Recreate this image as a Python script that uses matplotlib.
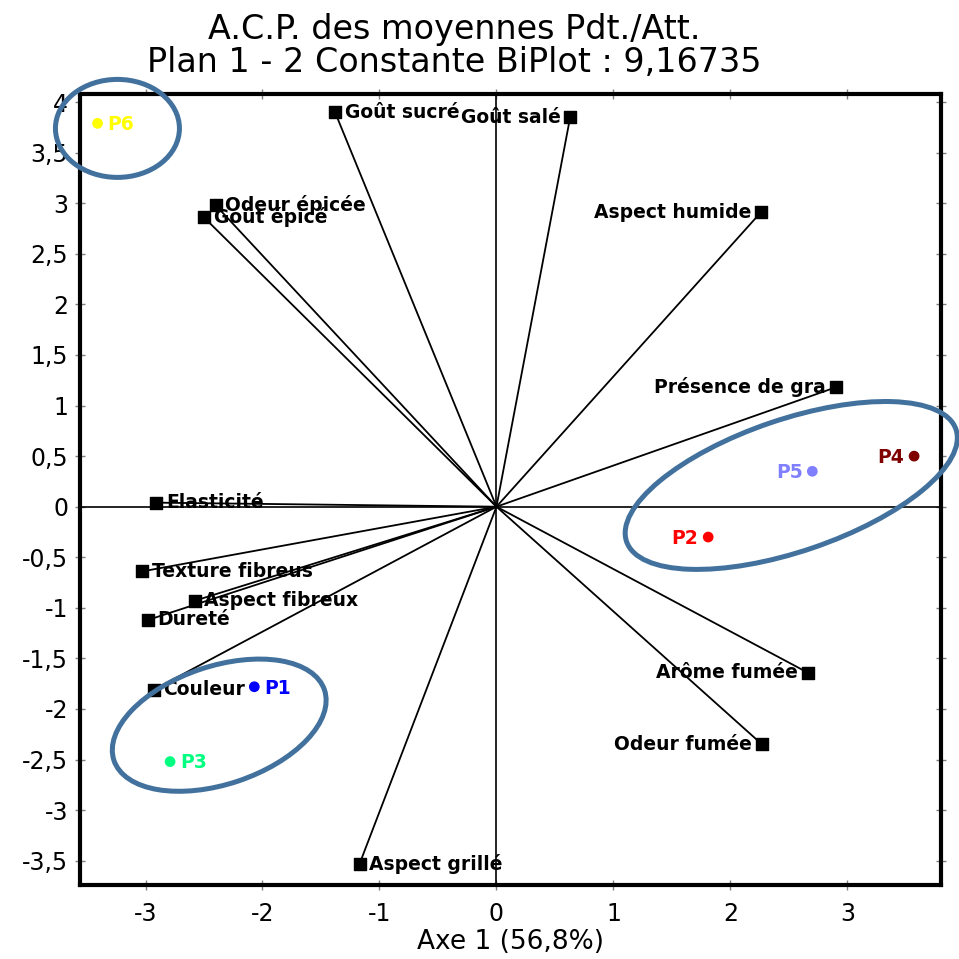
import numpy as np
import matplotlib
matplotlib.use("Agg")
import matplotlib.pyplot as plt
from matplotlib.patches import Ellipse
from matplotlib.ticker import FuncFormatter, MultipleLocator
import matplotlib.transforms as mtransforms

plt.rcParams['font.family'] = ['DejaVu Sans']

# variables (squares), coordinates
var_names = ['Goût sucré', 'Goût salé', 'Odeur épicée', 'Goût épicé',
             'Aspect humide', 'Présence de gra', 'Elasticité',
             'Texture fibreus', 'Aspect fibreux', 'Dureté', 'Couleur',
             'Arôme fumée', 'Odeur fumée', 'Aspect grillé']
var_x = [-1.38, 0.63, -2.40, -2.50, 2.26, 2.90, -2.91,
         -3.03, -2.58, -2.98, -2.93, 2.66, 2.27, -1.17]
var_y = [3.90, 3.85, 2.98, 2.86, 2.91, 1.18, 0.04,
         -0.64, -0.93, -1.12, -1.81, -1.64, -2.35, -3.53]
var_side = ['r', 'l', 'r', 'r', 'l', 'l', 'r', 'r', 'r', 'r', 'r', 'l', 'l', 'r']

# products (circles)
prod_names = ['P1', 'P2', 'P3', 'P4', 'P5', 'P6']
prod_x = [-2.07, 1.81, -2.79, 3.57, 2.70, -3.41]
prod_y = [-1.78, -0.30, -2.52, 0.50, 0.35, 3.79]
prod_side = ['r', 'l', 'r', 'l', 'l', 'r']
prod_colors = ['#0000ff', '#ff0000', '#00ff80', '#800000', '#8080ff', '#ffff00']

# group ellipses: centre (data), width/height (inches), angle (deg)
ell_cx = [-3.24, -2.37, 2.52]
ell_cy = [3.74, -2.16, 0.21]
ell_w = [1.24, 2.22, 3.48]
ell_h = [0.98, 1.18, 1.32]
ell_ang = [0, 18.5, 18.8]

fig = plt.figure(figsize=(9.59, 9.59), dpi=100)
ax = fig.add_axes([80/959, 1-885/959, (941-80)/959, (885-94)/959])
ax.set_xlim(-3.56, 3.80)
ax.set_ylim(-3.74, 4.08)

# lines from the origin
for x, y in zip(var_x, var_y):
    ax.plot([0, x], [0, y], color='black', lw=1.3, zorder=1)

# ellipses: white fill kept inside the frame, outline allowed outside
for cx, cy, w, h, a in zip(ell_cx, ell_cy, ell_w, ell_h, ell_ang):
    tr = fig.dpi_scale_trans + mtransforms.ScaledTranslation(cx, cy, ax.transData)
    ax.add_patch(Ellipse((0, 0), w, h, angle=a, transform=tr, facecolor='white',
                         edgecolor='none', zorder=2, clip_on=True))
    ax.add_patch(Ellipse((0, 0), w, h, angle=a, transform=tr, facecolor='none',
                         edgecolor='#41719c', lw=3.6, zorder=8, clip_on=False))

ax.axhline(0, color='black', lw=1.2, zorder=3)
ax.axvline(0, color='black', lw=1.2, zorder=3)

ax.scatter(var_x, var_y, marker='s', s=75, c='black', zorder=4)
for n, x, y, s in zip(var_names, var_x, var_y, var_side):
    off = 7 if s == 'r' else -7
    ax.annotate(n, (x, y), xytext=(off, 0), textcoords='offset points',
                ha='left' if s == 'r' else 'right', va='center',
                fontsize=13.5, fontweight='bold', zorder=5)

ax.scatter(prod_x, prod_y, marker='o', s=45, c=prod_colors, zorder=4)
for n, x, y, s, c in zip(prod_names, prod_x, prod_y, prod_side, prod_colors):
    off = 7 if s == 'r' else -7
    ax.annotate(n, (x, y), xytext=(off, -1), textcoords='offset points',
                ha='left' if s == 'r' else 'right', va='center',
                fontsize=13.5, fontweight='bold', color=c, zorder=5)

for sp in ax.spines.values():
    sp.set_linewidth(3)
    sp.set_zorder(7)
ax.xaxis.set_major_locator(MultipleLocator(1))
ax.yaxis.set_major_locator(MultipleLocator(0.5))
ax.yaxis.set_major_formatter(FuncFormatter(lambda v, p: ('%g' % v).replace('.', ',')))
ax.xaxis.set_major_formatter(FuncFormatter(lambda v, p: '%g' % v))
ax.tick_params(direction='inout', length=7, width=1, color='grey',
               labelsize=17, top=True, right=True)
ax.tick_params(axis='x', pad=9)
ax.tick_params(axis='y', pad=5)

ax.set_xlabel('Axe 1 (56,8%)', fontsize=19, labelpad=2)
fig.text(454/959, 1-30/959, 'A.C.P. des moyennes Pdt./Att.', fontsize=24,
         ha='center', va='center')
fig.text(454/959, 1-63/959, 'Plan 1 - 2 Constante BiPlot : 9,16735', fontsize=24,
         ha='center', va='center')

fig.savefig('out.png', dpi=100)
